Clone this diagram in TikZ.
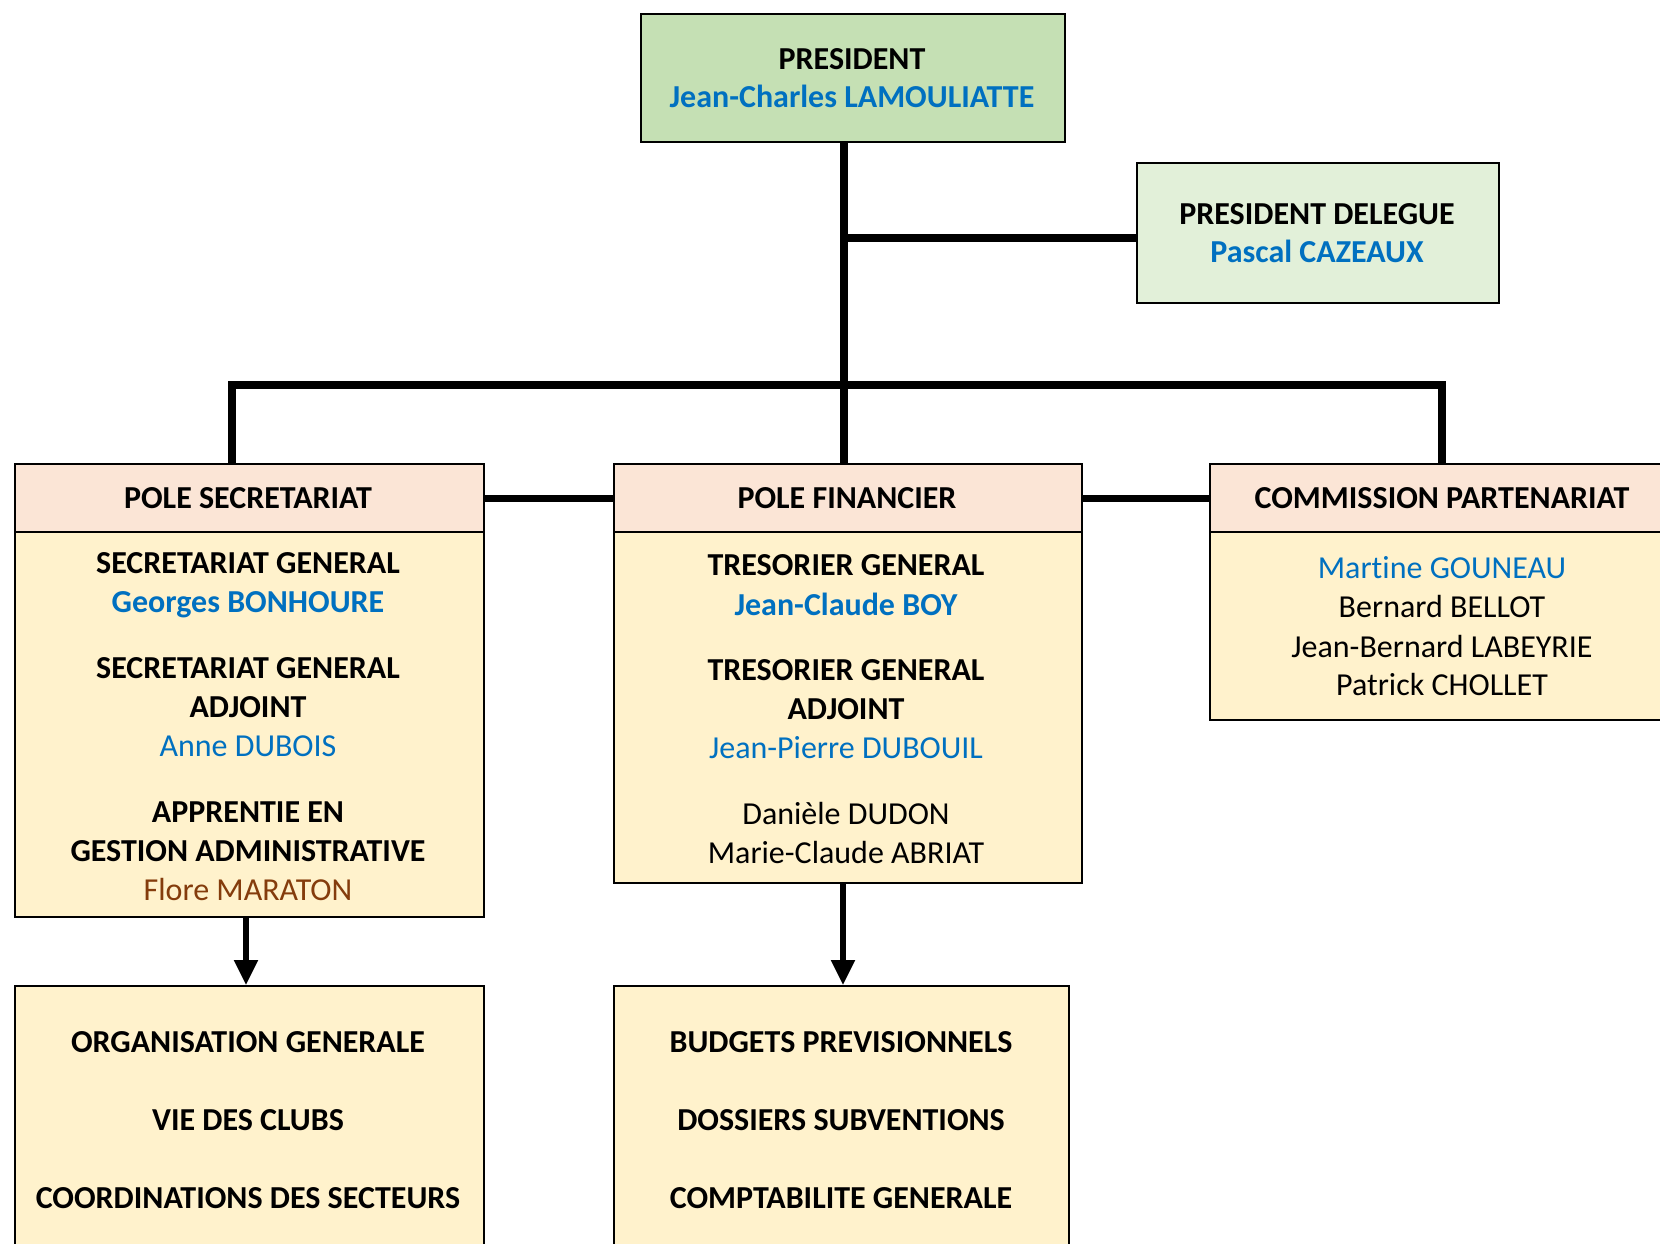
\documentclass[tikz,border=0pt]{standalone}
\usepackage{fontspec}
\setmainfont{Carlito}[Ligatures=NoCommon]
\usetikzlibrary{arrows.meta}
\definecolor{presg}{HTML}{C5E0B4}
\definecolor{delg}{HTML}{E2F0D9}
\definecolor{headc}{HTML}{FBE5D6}
\definecolor{bodyc}{HTML}{FFF2CC}
\definecolor{namec}{HTML}{0070C0}
\definecolor{brownc}{HTML}{843C0C}
\begin{document}
\begin{tikzpicture}[x=0.5pt,y=-0.5pt,
  box/.style={draw=black, line width=1.1pt, inner sep=0pt, anchor=north west},
  conn/.style={line width=3.6pt},
  arr/.style={line width=2.7pt, -{Triangle[length=12.5pt,width=11.5pt]}},
  txt/.style={inner sep=0pt, text height=10pt, text depth=0pt, font=\fontsize{16}{19}\selectfont},
  bt/.style={txt, font=\fontsize{16}{19}\selectfont\bfseries},
  nm/.style={txt, text=namec},
  bnm/.style={bt, text=namec},
  brn/.style={txt, text=brownc},
]
\useasboundingbox (0,0) rectangle (1660,1243);
% boxes
\node[box, fill=presg, minimum width=212pt, minimum height=64pt] (pres) at (640,13) {};
\node[box, fill=delg, minimum width=181pt, minimum height=70pt] (deleg) at (1136,162) {};
\node[box, fill=headc, minimum width=234.5pt, minimum height=34pt] (secH) at (14,463) {};
\node[box, fill=bodyc, minimum width=234.5pt, minimum height=192.5pt] (secB) at (14,531) {};
\node[box, fill=headc, minimum width=234pt, minimum height=34pt] (finH) at (613,463) {};
\node[box, fill=bodyc, minimum width=234pt, minimum height=175.5pt] (finB) at (613,531) {};
\node[box, fill=headc, minimum width=236pt, minimum height=34pt] (comH) at (1209,463) {};
\node[box, fill=bodyc, minimum width=236pt, minimum height=94pt] (comB) at (1209,531) {};
\node[box, fill=bodyc, minimum width=234.5pt, minimum height=140pt] (orgB) at (14,985) {};
\node[box, fill=bodyc, minimum width=227.5pt, minimum height=140pt] (budB) at (613,985) {};
% helper coordinates
\coordinate (sx) at (844,0);
\coordinate (busY) at (0,385);
\coordinate (lx) at (232,0);
\coordinate (rx) at (1442,0);
\coordinate (dy) at (0,238);
\coordinate (ax1) at (246,0);
\coordinate (ax2) at (843,0);
% connectors
\draw[conn] (pres.south -| sx) -- (finH.north -| sx);
\draw[conn] (sx |- dy) -- (deleg.west |- dy);
\draw[conn] (secH.north -| lx) -- (lx |- busY) -- (rx |- busY) -- (comH.north -| rx);
\draw[conn] (secH.east) -- (finH.west);
\draw[conn] (finH.east) -- (comH.west);
\draw[arr] (secB.south -| ax1) -- (orgB.north -| ax1);
\draw[arr] (finB.south -| ax2) -- (budB.north -| ax2);
% texts
\node[bt] (t1) at (852,59) {PRESIDENT};
\node[bnm] (t2) at (852,97) {Jean-Charles LAMOULIATTE};
\node[bt] (t3) at (1317,214) {PRESIDENT DELEGUE};
\node[bnm] (t4) at (1317,252) {Pascal CAZEAUX};
\node[bt] (h1) at (248,498) {POLE SECRETARIAT};
\node[bt] (h2) at (847,498) {POLE FINANCIER};
\node[bt] (h3) at (1442,498) {COMMISSION PARTENARIAT};
\node[bt] (s1) at (248,563) {SECRETARIAT GENERAL};
\node[bnm] (s2) at (248,602) {Georges BONHOURE};
\node[bt] (s3) at (248,668) {SECRETARIAT GENERAL};
\node[bt] (s4) at (248,707) {ADJOINT};
\node[nm] (s5) at (248,746) {Anne DUBOIS};
\node[bt] (s6) at (248,812) {APPRENTIE EN};
\node[bt] (s7) at (248,851) {GESTION ADMINISTRATIVE};
\node[brn] (s8) at (248,890) {Flore MARATON};
\node[bt] (f1) at (846,565) {TRESORIER GENERAL};
\node[bnm] (f2) at (846,605) {Jean-Claude BOY};
\node[bt] (f3) at (846,670) {TRESORIER GENERAL};
\node[bt] (f4) at (846,709) {ADJOINT};
\node[nm] (f5) at (846,748) {Jean-Pierre DUBOUIL};
\node[txt] (f6) at (846,814) {Danièle DUDON};
\node[txt] (f7) at (846,853) {Marie-Claude ABRIAT};
\node[nm] (c1) at (1442,568) {Martine GOUNEAU};
\node[txt] (c2) at (1442,607) {Bernard BELLOT};
\node[txt] (c3) at (1442,647) {Jean-Bernard LABEYRIE};
\node[txt] (c4) at (1442,685) {Patrick CHOLLET};
\node[bt] (o1) at (248,1042) {ORGANISATION GENERALE};
\node[bt] (o2) at (248,1120) {VIE DES CLUBS};
\node[bt] (o3) at (248,1198) {COORDINATIONS DES SECTEURS};
\node[bt] (b1) at (841,1042) {BUDGETS PREVISIONNELS};
\node[bt] (b2) at (841,1120) {DOSSIERS SUBVENTIONS};
\node[bt] (b3) at (841,1198) {COMPTABILITE GENERALE};
\end{tikzpicture}
\end{document}
